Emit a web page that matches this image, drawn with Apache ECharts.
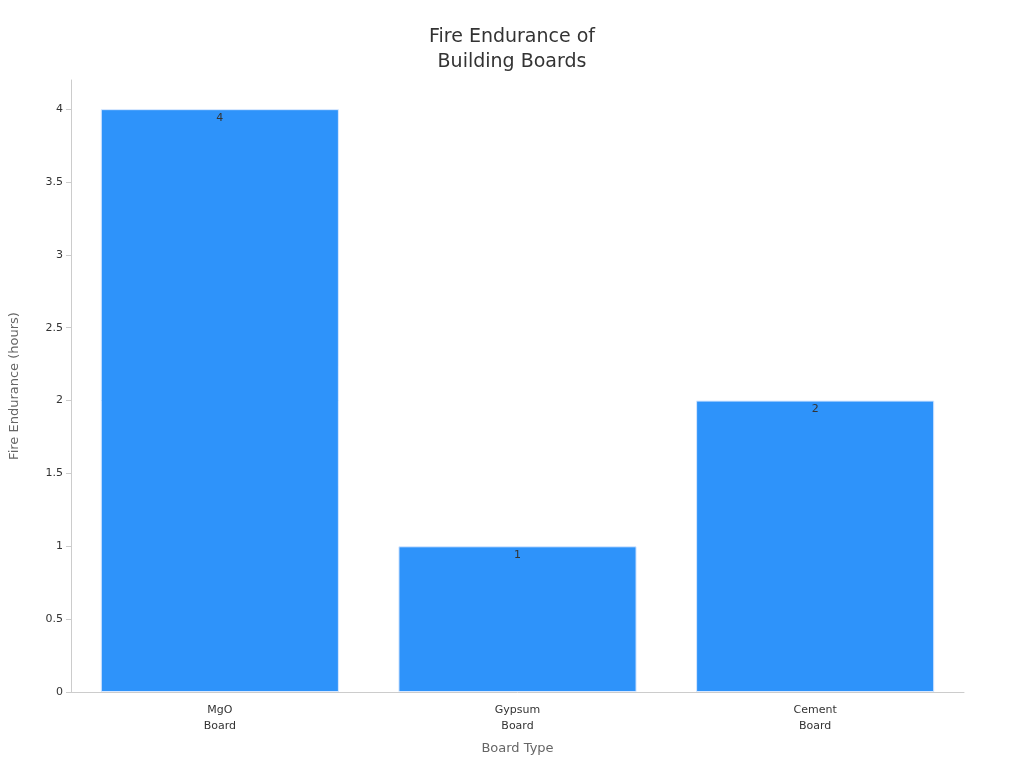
<!DOCTYPE html>
<html>
<head>
<meta charset="utf-8">
<script src="https://cdn.jsdelivr.net/npm/echarts@6/dist/echarts.min.js"></script>
<style>
  html, body { margin: 0; padding: 0; background: #fff; }
  #chart { width: 1024px; height: 768px; }
</style>
</head>
<body>
<div id="chart"></div>
<script>
const categories = ["MgO\nBoard", "Gypsum\nBoard", "Cement\nBoard"];
const enduranceHours = [4, 1, 2];

const chart = echarts.init(document.getElementById("chart"));
chart.setOption({
  textStyle: { fontFamily: "DejaVu Sans" },
  title: {
    text: "Fire Endurance of\nBuilding Boards",
    left: "center",
    top: 20,
    textStyle: { fontSize: 19, fontWeight: "normal", color: "#333", lineHeight: 25 },
  },
  grid: { left: 64, right: 60, top: 80, bottom: 76 },
  xAxis: {
    type: "category",
    data: categories,
    name: "Board Type",
    nameLocation: "middle",
    nameGap: 50,
    nameTextStyle: { fontSize: 13, color: "#666" },
    axisLine: { lineStyle: { color: "#ccc" } },
    axisTick: { show: false },
    axisLabel: { fontSize: 11, color: "#333", lineHeight: 16, margin: 10 },
  },
  yAxis: {
    type: "value",
    min: 0,
    max: 4.2,
    interval: 0.5,
    name: "Fire Endurance (hours)",
    nameLocation: "middle",
    nameGap: 50,
    nameTextStyle: { fontSize: 13, color: "#666" },
    axisLine: { show: true, lineStyle: { color: "#ccc" } },
    axisTick: { show: true, lineStyle: { color: "#ccc" } },
    splitLine: { show: false },
    axisLabel: { fontSize: 11, color: "#333", showMaxLabel: false },
  },
  series: [{
    type: "bar",
    data: enduranceHours,
    barCategoryGap: "20%",
    itemStyle: { color: "#2e93fa", borderColor: "#d8e8ff", borderWidth: 1 },
    label: {
      show: true,
      position: "insideTop",
      color: "#333",
      fontSize: 11,
      offset: [0, -2],
    },
  }],
});
</script>
</body>
</html>
